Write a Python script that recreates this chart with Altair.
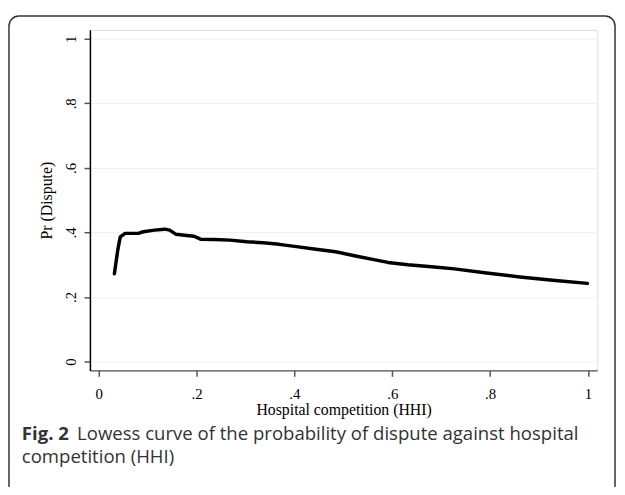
import altair as alt
import pandas as pd

hhi = [0.032, 0.039, 0.044, 0.054, 0.081, 0.091, 0.114, 0.135, 0.145, 0.158, 0.175, 0.195,
       0.208, 0.236, 0.268, 0.303, 0.336, 0.369, 0.404, 0.444, 0.484, 0.525, 0.565, 0.591,
       0.632, 0.686, 0.727, 0.793, 0.861, 0.928, 0.999]
pr_dispute = [0.272, 0.346, 0.386, 0.397, 0.397, 0.402, 0.407, 0.410, 0.407, 0.394, 0.391, 0.388,
              0.379, 0.378, 0.376, 0.371, 0.368, 0.363, 0.356, 0.348, 0.340, 0.327, 0.315, 0.307,
              0.300, 0.293, 0.287, 0.274, 0.262, 0.252, 0.242]
ticks = [0, 0.2, 0.4, 0.6, 0.8, 1]
caption_bold = "Fig. 2"
caption_line1 = "Lowess curve of the probability of dispute against hospital"
caption_line2 = "competition (HHI)"

df = pd.DataFrame({"hhi": hhi, "pr": pr_dispute})
one = pd.DataFrame({"k": [0]})

W, H = 514, 345
serif = "Liberation Serif"
sans = "Open Sans"

label_expr = "datum.value == 0 ? '0' : datum.value == 1 ? '1' : replace(format(datum.value, '.1f'), '0.', '.')"

line = alt.Chart(df).mark_line(color="black", strokeWidth=3.5, strokeJoin="round", strokeCap="round").encode(
    x=alt.X("hhi:Q", scale=alt.Scale(domain=[-0.018, 1.019], nice=False, zero=False),
            axis=alt.Axis(values=ticks, labelExpr=label_expr, title="Hospital competition (HHI)",
                          grid=False,
                          domainColor="#555555", domainWidth=1.5, tickColor="#555555", tickWidth=1.5, tickSize=6,
                          labelFont=serif, labelFontSize=15, labelColor="black", labelPadding=10,
                          titleFont=serif, titleFontSize=16, titleFontWeight="normal", titleColor="black",
                          titlePadding=1)),
    y=alt.Y("pr:Q", scale=alt.Scale(domain=[-0.0275, 1.0275], nice=False, zero=False),
            axis=alt.Axis(values=ticks, labelExpr=label_expr, title="Pr (Dispute)",
                          grid=True, gridColor="#eaf2f3", gridWidth=1,
                          domainColor="black", domainWidth=1.5, tickColor="#555555", tickWidth=1.5, tickSize=6,
                          labelFont=serif, labelFontSize=15, labelColor="black", labelAngle=270,
                          labelAlign="center", labelBaseline="bottom", labelPadding=6,
                          titleFont=serif, titleFontSize=16, titleFontWeight="normal", titleColor="black",
                          titlePadding=9)),
)

frame = alt.Chart(one).mark_rect(filled=False, stroke="#333333", strokeWidth=1.5, cornerRadius=10).encode(
    x=alt.value(-82), x2=alt.value(532), y=alt.value(-14), y2=alt.value(490)
)

cap_bold = alt.Chart(one).mark_text(text=caption_bold, font=sans, fontSize=18.8, fontWeight="bold",
                                    align="left", baseline="middle", color="#333333").encode(
    x=alt.value(-69), y=alt.value(410))
cap1 = alt.Chart(one).mark_text(text=caption_line1,
                                font=sans, fontSize=18.8, align="left", baseline="middle", color="#333333").encode(
    x=alt.value(-13), y=alt.value(410))
cap2 = alt.Chart(one).mark_text(text=caption_line2, font=sans, fontSize=18.8, align="left",
                                baseline="middle", color="#333333").encode(
    x=alt.value(-69), y=alt.value(433))

chart = alt.layer(line, frame, cap_bold, cap1, cap2).properties(
    width=W, height=H,
    autosize=alt.AutoSizeParams(type="none"),
    padding={"left": 83, "top": 19, "right": 20, "bottom": 115},
).configure_view(stroke=None).configure(background="white")

chart.save("out.html", embed_options={"renderer": "svg", "actions": False})
